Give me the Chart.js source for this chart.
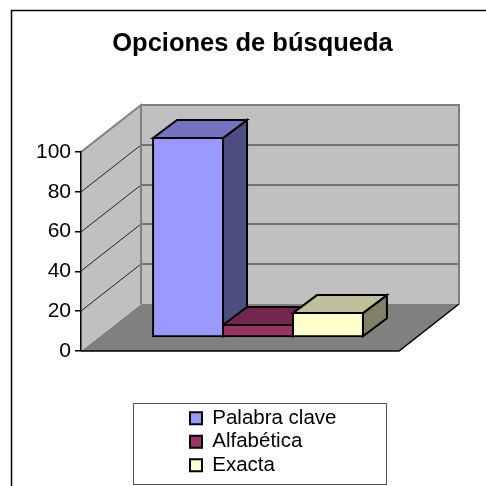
<!DOCTYPE html>
<html>
<head>
<meta charset="utf-8">
<title>Opciones de búsqueda</title>
<script src="https://cdn.jsdelivr.net/npm/chart.js@4"></script>
<style>
  html, body { margin: 0; padding: 0; background: #fff; overflow: hidden; }
  canvas { display: block; }
</style>
</head>
<body>
<canvas id="chart" width="486" height="486"></canvas>
<script>
const chartTitle = 'Opciones de búsqueda';
const categories = ['Opciones'];
const seriesNames = ['Palabra clave', 'Alfabética', 'Exacta'];
const seriesValues = [[100], [6], [12]];
const tickValues = [0, 20, 40, 60, 80, 100];
const frontColors = ['#9999FF', '#993366', '#FFFFCC'];
const topColors = ['#7373BF', '#732650', '#BFBF99'];
const sideColors = ['#4D4D80', '#4D1A33', '#808066'];

const font = 'Liberation Sans';

// the fake 3D box: how far the back wall sits from the front plane
const wallDx = 60, wallDy = -47;
// bars stand part way into the box and have their own depth
const barShiftX = 18, barShiftY = -14;
const barDx = 24, barDy = -18;

function poly(ctx, pts, fill, stroke, lw) {
  ctx.beginPath();
  pts.forEach((p, i) => i ? ctx.lineTo(p[0], p[1]) : ctx.moveTo(p[0], p[1]));
  ctx.closePath();
  if (fill) { ctx.fillStyle = fill; ctx.fill(); }
  if (stroke) { ctx.strokeStyle = stroke; ctx.lineWidth = lw; ctx.lineJoin = 'miter'; ctx.stroke(); }
}

const box3d = {
  id: 'box3d',
  afterLayout(chart) {
    // move the legend down under the plot
    const lg = chart.legend;
    lg.left = 187; lg.right = 385; lg.top = 405; lg.bottom = 485;
    chart.titleBlock.left = 19; chart.titleBlock.right = 486;
  },
  beforeDraw(chart) {
    const { ctx, chartArea: a, scales: { y } } = chart;
    ctx.save();
    // outer frame, only left and top fall inside the crop
    ctx.strokeStyle = '#000';
    ctx.lineWidth = 1.5;
    ctx.beginPath();
    ctx.moveTo(11.5, 486); ctx.lineTo(11.5, 10.5); ctx.lineTo(486, 10.5);
    ctx.stroke();

    const yT = a.top, yB = a.bottom, xL = a.left, xR = a.right;
    poly(ctx, [[xL, yB], [xL + wallDx, yB + wallDy], [xR + wallDx, yB + wallDy], [xR, yB]], '#808080');
    poly(ctx, [[xL, yT], [xL + wallDx, yT + wallDy], [xL + wallDx, yB + wallDy], [xL, yB]], '#C0C0C0');
    ctx.fillStyle = '#C0C0C0';
    ctx.fillRect(xL + wallDx, yT + wallDy, xR - xL, yB - yT);

    // grid lines over both walls
    ctx.strokeStyle = '#222';
    ctx.lineWidth = 1;
    tickValues.slice(1, -1).forEach(v => {
      const p = Math.round(y.getPixelForValue(v));
      ctx.beginPath();
      ctx.moveTo(xL, p);
      ctx.lineTo(xL + wallDx, p + wallDy);
      ctx.lineTo(xR + wallDx, p + wallDy);
      ctx.stroke();
    });

    // wall edges
    ctx.strokeStyle = '#808080';
    ctx.lineWidth = 2;
    ctx.beginPath();
    ctx.moveTo(xL, yT);
    ctx.lineTo(xL + wallDx, yT + wallDy);
    ctx.lineTo(xL + wallDx, yB + wallDy);
    ctx.moveTo(xL + wallDx, yT + wallDy);
    ctx.lineTo(xR + wallDx, yT + wallDy);
    ctx.lineTo(xR + wallDx, yB + wallDy);
    ctx.stroke();

    // front edge of the floor and its right edge
    ctx.strokeStyle = '#000';
    ctx.lineWidth = 1.5;
    ctx.beginPath();
    ctx.moveTo(xR + wallDx, yB + wallDy);
    ctx.lineTo(xR, yB);
    ctx.lineTo(xL, yB);
    ctx.stroke();
    ctx.restore();
  },
  beforeDatasetsDraw(chart) {
    // tops and sides go left to right so each bar covers the side of the one before
    const { ctx } = chart;
    ctx.save();
    seriesNames.forEach((name, i) => {
      const bar = chart.getDatasetMeta(i).data[0];
      const l = bar.x - bar.width / 2 + barShiftX, r = bar.x + bar.width / 2 + barShiftX;
      const t = bar.y + barShiftY, b = bar.base + barShiftY;
      poly(ctx, [[r, t], [r + barDx, t + barDy], [r + barDx, b + barDy], [r, b]], sideColors[i], '#000', 2);
      poly(ctx, [[l, t], [l + barDx, t + barDy], [r + barDx, t + barDy], [r, t]], topColors[i], '#000', 2);
    });
    ctx.restore();
  },
  beforeDatasetDraw(chart) {
    // the front face is the real Chart.js bar, pushed into the box
    chart.ctx.save();
    chart.ctx.translate(barShiftX, barShiftY);
  },
  afterDatasetDraw(chart) {
    chart.ctx.restore();
  },
  afterDraw(chart) {
    const { ctx } = chart;
    ctx.save();
    ctx.strokeStyle = '#555';
    ctx.lineWidth = 1;
    ctx.strokeRect(133.5, 403.5, 253, 81);
    ctx.restore();
  }
};

new Chart(document.getElementById('chart').getContext('2d'), {
  type: 'bar',
  data: {
    labels: categories,
    datasets: seriesNames.map((name, i) => ({
      label: name,
      data: seriesValues[i],
      backgroundColor: frontColors[i],
      borderColor: '#000',
      borderWidth: 2,
      borderSkipped: false,
      inflateAmount: 1,
      barPercentage: 1,
      categoryPercentage: 0.66,
      clip: false
    }))
  },
  options: {
    responsive: false,
    animation: false,
    layout: { padding: { left: 0, right: 87, top: 0, bottom: 135 } },
    scales: {
      x: { display: false },
      y: {
        min: 0,
        max: 100,
        afterFit(scale) { scale.width = 81; },
        afterBuildTicks(scale) { scale.ticks = tickValues.map(value => ({ value })); },
        ticks: { color: '#000', padding: 4, font: { family: font, size: 21 } },
        grid: { drawOnChartArea: false, color: '#000', tickLength: 6, lineWidth: 1.5 },
        border: { color: '#000', width: 1.5 }
      }
    },
    plugins: {
      title: {
        display: true,
        text: chartTitle,
        color: '#000',
        font: { family: font, size: 25.5, weight: 'bold' },
        padding: { top: 29, bottom: 92.4 }
      },
      legend: {
        position: 'chartArea',
        align: 'start',
        labels: {
          color: '#000',
          font: { family: font, size: 20.5 },
          boxWidth: 12,
          boxHeight: 12,
          padding: 3
        }
      },
      tooltip: { enabled: false }
    }
  },
  plugins: [box3d]
});
</script>
</body>
</html>
